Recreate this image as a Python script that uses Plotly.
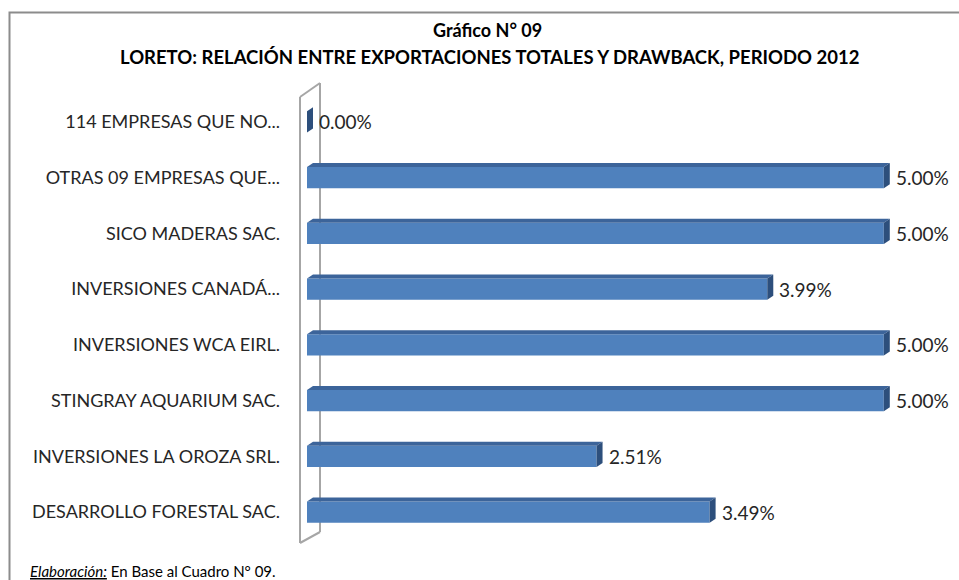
import plotly.graph_objects as go

# ---- data ----
categories = [
    "114 EMPRESAS QUE NO...",
    "OTRAS 09 EMPRESAS QUE...",
    "SICO MADERAS SAC.",
    "INVERSIONES CANADÁ...",
    "INVERSIONES WCA EIRL.",
    "STINGRAY AQUARIUM SAC.",
    "INVERSIONES LA OROZA SRL.",
    "DESARROLLO FORESTAL SAC.",
]
values = [0.00, 5.00, 5.00, 3.99, 5.00, 5.00, 2.51, 3.49]
value_labels = ["0.00%", "5.00%", "5.00%", "3.99%", "5.00%", "5.00%", "2.51%", "3.49%"]
title_1 = "Gráfico N° 09"
title_2 = "LORETO: RELACIÓN ENTRE EXPORTACIONES TOTALES Y DRAWBACK, PERIODO 2012"

# ---- layout geometry (pixels) ----
W, H = 959, 580
ML, MR, MT, MB = 307, 6, 94, 40
PW, PH = W - ML - MR, H - MT - MB
XMAX = 5.6
ppu_x = PW / XMAX
ppu_y = PH / len(categories)

def px_to_paper_x(px):
    return (px - ML) / PW

def px_to_paper_y(py):
    return (H - MB - py) / PH

FONT = "Lato"
face_col = "#4F81BD"
top_col = "#3C649A"
side_col = "#2D4F7C"
bar_w = 0.38
dx = 6 / ppu_x
dy = 4 / ppu_y

idx = list(range(len(categories)))

fig = go.Figure()
fig.add_trace(go.Bar(
    x=values, y=idx, orientation="h", width=bar_w,
    marker=dict(color=face_col, line=dict(width=0)),
    hoverinfo="skip", showlegend=False,
))

# 3D faces derived from the values
for i, v in zip(idx, values):
    top = i - bar_w / 2
    bot = i + bar_w / 2
    if v > 0:
        fig.add_shape(type="path", xref="x", yref="y", layer="above",
                      path=f"M 0 {top} L {v} {top} L {v+dx} {top-dy} L {dx} {top-dy} Z",
                      fillcolor=top_col, line=dict(width=0))
    fig.add_shape(type="path", xref="x", yref="y", layer="above",
                  path=f"M {v} {top} L {v+dx} {top-dy} L {v+dx} {bot-dy} L {v} {bot} Z",
                  fillcolor=side_col, line=dict(width=0))

# value labels
for i, v, t in zip(idx, values, value_labels):
    fig.add_annotation(x=v, y=i, text=t, xref="x", yref="y", showarrow=False,
                       xanchor="left", yanchor="middle", xshift=10,
                       font=dict(family=FONT, size=19, color="#262626"))

# wall (vertical 3D axis frame)
wall_col = "#A6A6A6"
fx, bx = px_to_paper_x(300), px_to_paper_x(320)
ft, fb = px_to_paper_y(97), px_to_paper_y(543)
bt, bb = px_to_paper_y(83), px_to_paper_y(532)
for (x0, y0, x1, y1) in [(fx, ft, fx, fb), (bx, bt, bx, bb), (fx, ft, bx, bt), (fx, fb, bx, bb)]:
    fig.add_shape(type="line", xref="paper", yref="paper", x0=x0, y0=y0, x1=x1, y1=y1,
                  layer="below", line=dict(color=wall_col, width=2))

# outer chart border
fig.add_shape(type="rect", xref="paper", yref="paper",
              x0=px_to_paper_x(9.5), x1=px_to_paper_x(W + 10),
              y0=px_to_paper_y(H + 10), y1=px_to_paper_y(12.5),
              line=dict(color="#8C8C8C", width=2), fillcolor="rgba(0,0,0,0)", layer="below")

# titles
fig.add_annotation(text=f"<b>{title_1}</b>", xref="paper", yref="paper",
                   x=px_to_paper_x(487), y=px_to_paper_y(30), showarrow=False,
                   xanchor="center", yanchor="middle",
                   font=dict(family=FONT, size=18, color="#000000"))
fig.add_annotation(text=f"<b>{title_2}</b>", xref="paper", yref="paper",
                   x=px_to_paper_x(489), y=px_to_paper_y(57), showarrow=False,
                   xanchor="center", yanchor="middle",
                   font=dict(family=FONT, size=18.5, color="#000000"))
# footer
fig.add_annotation(text="<i><u>Elaboración:</u></i> En Base al Cuadro N° 09.", xref="paper", yref="paper",
                   x=px_to_paper_x(28), y=px_to_paper_y(571), showarrow=False,
                   xanchor="left", yanchor="middle",
                   font=dict(family=FONT, size=15, color="#000000"))

fig.update_layout(
    width=W, height=H,
    margin=dict(l=ML, r=MR, t=MT, b=MB, pad=0),
    paper_bgcolor="white", plot_bgcolor="white",
    xaxis=dict(range=[0, XMAX], visible=False, showgrid=False, zeroline=False, fixedrange=True),
    yaxis=dict(range=[len(categories) - 0.5, -0.5], tickmode="array", tickvals=idx,
               ticktext=categories, showgrid=False, zeroline=False, showline=False,
               ticks="", ticklabelstandoff=26,
               tickfont=dict(family=FONT, size=18, color="#262626"), fixedrange=True),
    showlegend=False,
)

fig.write_html("out.html", config={"displayModeBar": False},
               post_script="document.body.style.margin='0';document.body.style.overflow='hidden';")
